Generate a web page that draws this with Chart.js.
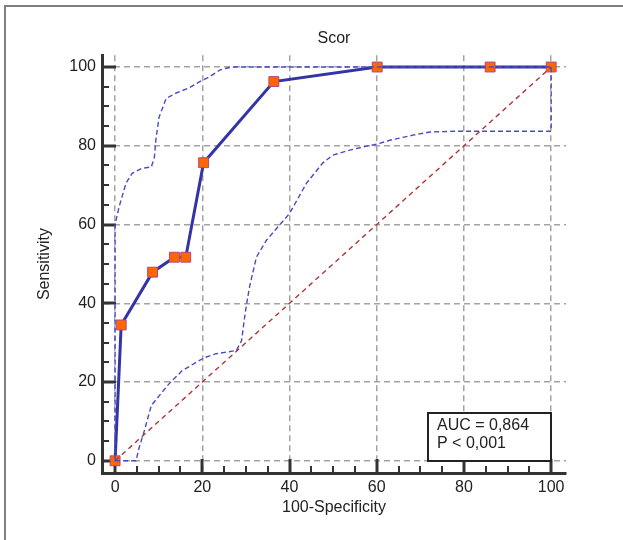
<!DOCTYPE html>
<html>
<head>
<meta charset="utf-8">
<title>Scor ROC</title>
<script src="https://cdn.jsdelivr.net/npm/chart.js@4.4.1/dist/chart.umd.min.js"></script>
<style>
  html, body { margin: 0; padding: 0; background: #fff; }
  #wrap { position: relative; width: 623px; height: 540px; overflow: hidden; }
  #frame { position: absolute; left: 4px; top: 5px; right: -10px; bottom: -10px;
           border-top: 2px solid #808080; border-left: 2px solid #808080; }
  canvas { position: absolute; left: 0; top: 0; }
</style>
</head>
<body>
<div id="wrap">
  <div id="frame"></div>
  <canvas id="roc" width="623" height="540"></canvas>
</div>
<script>
// ROC curve (100-Specificity, Sensitivity)
const rocX = [0, 1.4, 8.6, 13.6, 16.2, 20.3, 36.4, 60.1, 86, 100];
const rocY = [0, 34.5, 47.9, 51.7, 51.7, 75.7, 96.3, 100, 100, 100];

// 95% confidence bounds
const upperX = [0, 0, 0.9, 2.5, 3.9, 6.2, 8.3, 9, 9.4, 10.1, 11.7, 14, 17, 19.3, 21.6, 24, 25.5, 27, 100];
const upperY = [0, 60, 64.4, 70.5, 73, 74.3, 74.6, 77, 82, 87.3, 92, 93.4, 94.7, 96.2, 97.5, 99.2, 99.7, 100, 100];

const lowerX = [0, 4.8, 5.5, 6.7, 8.3, 10.1, 12.4, 15.4, 18.6, 20.5, 23.2, 27.8, 29, 29.7, 30.1, 30.8, 32.4, 34.7,
                40, 43.9, 47.6, 49.9, 53.8, 57.7, 60, 63, 68.3, 72.2, 78.4, 100, 100];
const lowerY = [0, 0, 3.3, 7.6, 14, 16.5, 19.6, 22.9, 25, 26.2, 27.2, 28, 30.5, 36.4, 39.4, 44, 51.7, 56,
                62.8, 70.5, 75.6, 77.6, 78.9, 79.9, 80.4, 81.4, 82.7, 83.5, 83.7, 83.7, 100];

// reference diagonal
const diagX = [0, 100];
const diagY = [0, 100];

const tickVals = [0, 5, 10, 15, 20, 25, 30, 35, 40, 45, 50, 55, 60, 65, 70, 75, 80, 85, 90, 95, 100];
const majorStep = 20;
const aucLines = ['AUC = 0,864', 'P < 0,001'];

const FONT = '"Liberation Sans", Arial, sans-serif';
const TXT = '#222';

function pts(xs, ys) {
  return xs.map((v, i) => ({ x: v, y: ys[i] }));
}

// tick marks pointing into the plot, like the original
const innerTicks = {
  id: 'innerTicks',
  beforeDatasetsDraw(chart) {
    const { ctx, chartArea, scales: { x, y } } = chart;
    ctx.save();
    ctx.strokeStyle = '#333';
    tickVals.forEach(v => {
      const major = v % majorStep === 0;
      ctx.lineWidth = major ? 3 : 2;
      const len = major ? 14 : 7;
      const py = Math.round(y.getPixelForValue(v));
      ctx.beginPath();
      ctx.moveTo(chartArea.left, py);
      ctx.lineTo(chartArea.left + len, py);
      ctx.stroke();
      const px = Math.round(x.getPixelForValue(v));
      ctx.beginPath();
      ctx.moveTo(px, chartArea.bottom);
      ctx.lineTo(px, chartArea.bottom - len);
      ctx.stroke();
    });
    ctx.restore();
  }
};

const aucBox = {
  id: 'aucBox',
  afterDatasetsDraw(chart) {
    const { ctx, scales: { x, y } } = chart;
    const l = Math.round(x.getPixelForValue(71.8));
    const r = Math.round(x.getPixelForValue(100));
    const t = Math.round(y.getPixelForValue(12.1));
    const b = Math.round(y.getPixelForValue(0));
    ctx.save();
    ctx.fillStyle = '#fff';
    ctx.fillRect(l, t, r - l, b - t);
    ctx.strokeStyle = '#222';
    ctx.lineWidth = 2;
    ctx.strokeRect(l, t, r - l, b - t);
    ctx.fillStyle = TXT;
    ctx.font = '16px ' + FONT;
    ctx.textBaseline = 'alphabetic';
    ctx.fillText(aucLines[0], l + 9, t + 17);
    ctx.fillText(aucLines[1], l + 9, t + 35);
    ctx.restore();
  }
};

const gridColor = c => (c.tick && c.tick.value % majorStep === 0) ? '#a3a3a3' : 'rgba(0,0,0,0)';

new Chart(document.getElementById('roc'), {
  type: 'scatter',
  data: {
    datasets: [
      {
        data: pts(upperX, upperY),
        showLine: true,
        borderColor: '#4a4ac4',
        borderWidth: 1.4,
        borderDash: [5, 3],
        pointRadius: 0,
        fill: false
      },
      {
        data: pts(lowerX, lowerY),
        showLine: true,
        borderColor: '#4a4ac4',
        borderWidth: 1.4,
        borderDash: [5, 3],
        pointRadius: 0,
        fill: false
      },
      {
        data: pts(diagX, diagY),
        showLine: true,
        borderColor: '#b03535',
        borderWidth: 1.4,
        borderDash: [5, 4],
        pointRadius: 0,
        fill: false
      },
      {
        data: pts(rocX, rocY),
        showLine: true,
        borderColor: '#3434a6',
        borderWidth: 3,
        pointStyle: 'rect',
        pointRadius: 7,
        pointBackgroundColor: '#ff6600',
        pointBorderColor: '#b04a7a',
        pointBorderWidth: 1,
        fill: false,
        clip: false
      }
    ]
  },
  options: {
    responsive: false,
    animation: false,
    devicePixelRatio: 1,
    layout: { padding: { left: 0, right: 57, top: 0, bottom: 0 } },
    plugins: {
      legend: { display: false },
      tooltip: { enabled: false },
      title: {
        display: true,
        text: 'Scor',
        fullSize: false,
        color: TXT,
        font: { family: FONT, size: 16, weight: 'normal' },
        padding: { top: 29, bottom: 7 }
      }
    },
    scales: {
      x: {
        type: 'linear',
        min: -3,
        max: 103.4,
        afterBuildTicks: s => { s.ticks = tickVals.map(v => ({ value: v })); },
        afterFit: s => { s.height = 67; },
        grid: { color: gridColor, lineWidth: 1.5, drawTicks: false },
        border: { display: true, color: '#333', width: 3, dash: [6, 4] },
        ticks: {
          autoSkip: false,
          maxRotation: 0,
          padding: 5,
          color: TXT,
          font: { family: FONT, size: 16 },
          callback: v => (v % majorStep === 0 ? v : '')
        },
        title: {
          display: true,
          text: '100-Specificity',
          color: TXT,
          font: { family: FONT, size: 16 },
          padding: { top: 0, bottom: 23 }
        }
      },
      y: {
        type: 'linear',
        min: -3.1,
        max: 103,
        afterBuildTicks: s => { s.ticks = tickVals.map(v => ({ value: v })); },
        afterFit: s => { s.width = 102; },
        grid: { color: gridColor, lineWidth: 1.5, drawTicks: false },
        border: { display: true, color: '#333', width: 3, dash: [6, 4] },
        ticks: {
          autoSkip: false,
          padding: 6,
          color: TXT,
          font: { family: FONT, size: 16 },
          callback: v => (v % majorStep === 0 ? v : '')
        },
        title: {
          display: true,
          text: 'Sensitivity',
          color: TXT,
          font: { family: FONT, size: 16 },
          padding: { top: 35, bottom: 0 }
        }
      }
    }
  },
  plugins: [innerTicks, aucBox]
});
</script>
</body>
</html>
